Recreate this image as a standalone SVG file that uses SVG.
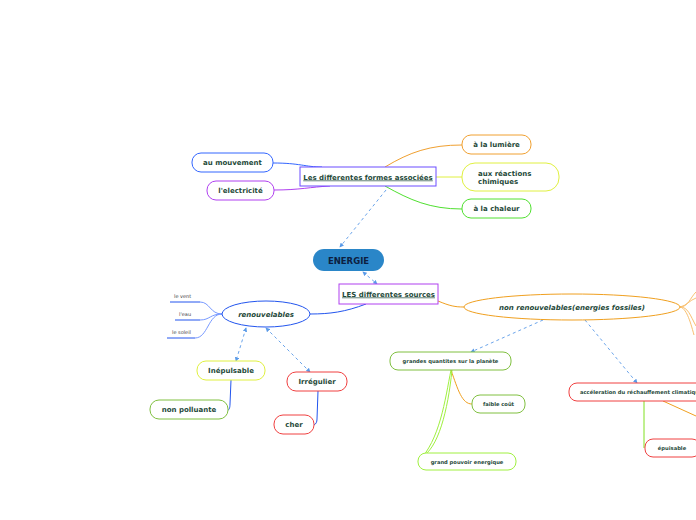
<svg xmlns="http://www.w3.org/2000/svg" width="696" height="520" viewBox="0 0 696 520">
<style>
text{font-family:"DejaVu Sans","Verdana",sans-serif;font-weight:bold;fill:#1f4a3a}
.n{fill:#fff;stroke-width:1}
.m{font-size:7px}
.s{font-size:5.2px}
.leaf{font-size:5px;font-weight:normal;fill:#444}
.c{fill:none;stroke-width:1}
.d{fill:none;stroke:#5a9ae8;stroke-width:0.9;stroke-dasharray:3 3}
</style>
<defs>
<marker id="a" viewBox="0 0 6 6" refX="5" refY="3" markerWidth="5" markerHeight="5" orient="auto-start-reverse"><path d="M0,0L6,3L0,6z" fill="#5a9ae8"/></marker>
</defs>
<rect width="696" height="520" fill="#fff"/>
<g id="connectors">
<path class="c" stroke="#3366ff" d="M273,163 C300,163 305,167 322,167"/>
<path class="c" stroke="#b040f0" d="M274,190 C300,190 310,187 330,186"/>
<path class="c" stroke="#f0a030" d="M385,167 C410,152 430,145 462,145"/>
<path class="c" stroke="#e0f040" d="M436,177 L462,177"/>
<path class="c" stroke="#50e030" d="M385,186 C410,200 430,209 462,209"/>
<path class="d" d="M386,190 L340,247" marker-end="url(#a)"/>
<path class="d" d="M363,272 L377,284" marker-start="url(#a)" marker-end="url(#a)"/>
<path class="c" stroke="#2255ee" d="M366,304 C345,312 330,314 310,314"/>
<path class="c" stroke="#f0a020" d="M438,301 C450,306 455,307 464,307"/>
<path class="c" stroke="#7799ff" d="M222,314 C210,314 210,302 200,302"/>
<path class="c" stroke="#7799ff" d="M222,314 C210,314 210,320 200,320"/>
<path class="c" stroke="#7799ff" d="M222,314 C208,314 208,338 195,338"/>
<path class="c" stroke="#2255ee" stroke-width="1.3" d="M170,302 L200,302 M175,320 L200,320 M167,338 L195,338"/>
<path class="d" d="M246,328 L236,361" marker-start="url(#a)" marker-end="url(#a)"/>
<path class="d" d="M266,328 L310,372" marker-start="url(#a)" marker-end="url(#a)"/>
<path class="c" stroke="#2255ee" stroke-width="1.5" d="M231,380 L230,404 C230,408 229,410 228,410"/>
<path class="c" stroke="#2255ee" stroke-width="1.5" d="M318,391 L317,419 C317,422 316,424 314,425"/>
<path class="c" stroke="#f8c070" d="M680,307 C688,307 690,298 696,292 M680,307 C688,307 690,315 696,326 M680,307 C686,308 690,320 694,335 M680,307 C686,306 690,300 696,298"/>
<path class="d" d="M543,320 L471,352" marker-end="url(#a)"/>
<path class="d" d="M585,320 L637,383" marker-end="url(#a)"/>
<path class="c" stroke="#f0a020" d="M451,370 C458,390 462,404 472,404"/>
<path class="c" stroke="#a0f040" stroke-width="1.3" d="M451,370 C445,400 440,440 418,462 M452,370 C448,410 438,450 421,457"/>
<path class="c" stroke="#80e020" stroke-width="1.3" d="M644,401 L644,448"/>
<path class="c" stroke="#f0a020" stroke-width="1.2" d="M663,401 L696,416"/>
</g>
<g id="energie"><rect x="313" y="249" width="71" height="22" rx="11" fill="#2a86c8"/><text x="348.5" y="263.5" text-anchor="middle" style="font-size:8.5px;fill:#0d2040">ENERGIE</text></g>
<g id="formes"><rect class="n" x="300" y="167" width="136" height="19" stroke="#6a4cff"/><text class="m" x="368" y="179.5" text-anchor="middle" text-decoration="underline">Les differentes formes associées</text></g>
<g id="mouvement"><rect class="n" x="192" y="153" width="81" height="19" rx="9" stroke="#3366ff"/><text class="m" x="232.5" y="165" text-anchor="middle">au mouvement</text></g>
<g id="electricite"><rect class="n" x="207" y="181" width="67" height="19" rx="9" stroke="#b040f0"/><text class="m" x="240.5" y="193" text-anchor="middle">l'electricité</text></g>
<g id="lumiere"><rect class="n" x="462" y="135" width="69" height="19" rx="9" stroke="#f0a030"/><text class="m" x="496.5" y="147" text-anchor="middle">à la lumière</text></g>
<g id="reactions"><rect class="n" x="462" y="163" width="97" height="28" rx="13" stroke="#e0f040"/><text class="m" x="478" y="175.5">aux réactions</text><text class="m" x="478" y="184">chimiques</text></g>
<g id="chaleur"><rect class="n" x="462" y="199" width="69" height="19" rx="9" stroke="#50e030"/><text class="m" x="496.5" y="211" text-anchor="middle">à la chaleur</text></g>
<g id="sources"><rect class="n" x="339" y="284" width="99" height="20" stroke="#b040f0"/><text class="m" x="388.5" y="296.5" text-anchor="middle" text-decoration="underline">LES differentes sources</text></g>
<g id="renouvelables"><ellipse class="n" cx="266" cy="314" rx="44" ry="13" stroke="#2255ee"/><text class="m" x="266" y="316.5" text-anchor="middle" font-style="italic">renouvelables</text></g>
<g id="vent"><text class="leaf" x="174" y="298">le vent</text></g>
<g id="eau"><text class="leaf" x="179" y="316">l'eau</text></g>
<g id="soleil"><text class="leaf" x="172" y="334">le soleil</text></g>
<g id="inepulsable"><rect class="n" x="197" y="361" width="68" height="19" rx="9" stroke="#e0f040"/><text class="m" x="231" y="373" text-anchor="middle">Inépulsable</text></g>
<g id="polluante"><rect class="n" x="150" y="400" width="78" height="19" rx="9" stroke="#80c040"/><text class="m" x="189" y="412" text-anchor="middle">non polluante</text></g>
<g id="irregulier"><rect class="n" x="287" y="372" width="60" height="19" rx="9" stroke="#f04040"/><text class="m" x="317" y="384" text-anchor="middle">Irrégulier</text></g>
<g id="cher"><rect class="n" x="274" y="415" width="40" height="19" rx="9" stroke="#f04040"/><text class="m" x="294" y="427" text-anchor="middle">cher</text></g>
<g id="nonrenouvelables"><ellipse class="n" cx="572" cy="307" rx="108" ry="13" stroke="#f0a020"/><text class="m" x="572" y="309.5" text-anchor="middle" font-style="italic">non renouvelables(energies fossiles)</text></g>
<g id="quantites"><rect class="n" x="390" y="352" width="121" height="18" rx="8" stroke="#80c040"/><text class="s" x="450.5" y="363" text-anchor="middle">grandes quantites sur la planète</text></g>
<g id="faible"><rect class="n" x="472" y="395" width="53" height="18" rx="8" stroke="#80c040"/><text class="s" x="498.5" y="406" text-anchor="middle">faible coût</text></g>
<g id="pouvoir"><rect class="n" x="418" y="453" width="98" height="17" rx="8" stroke="#a0f040"/><text class="s" x="467" y="463.5" text-anchor="middle">grand pouvoir energique</text></g>
<g id="acceleration"><rect class="n" x="569" y="383" width="140" height="18" rx="8" stroke="#f04040"/><text class="s" x="580" y="394">accéleration du réchauffement climatique</text></g>
<g id="epuisable"><rect class="n" x="645" y="439" width="55" height="18" rx="8" stroke="#f04040"/><text class="s" x="672" y="450" text-anchor="middle">épuisable</text></g>
</svg>
